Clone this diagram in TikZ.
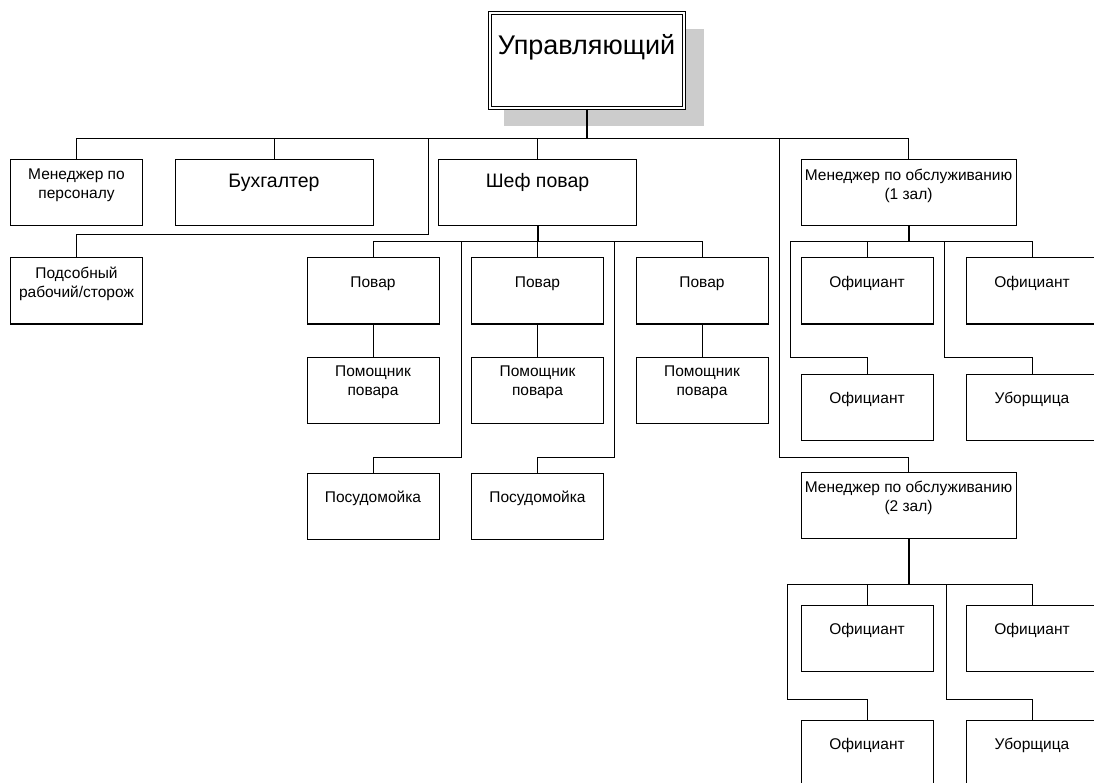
\documentclass[tikz,border=0pt]{standalone}
\usepackage{fontspec}
\setmainfont{Liberation Sans}
\usetikzlibrary{shadows}

\tikzset{
  box/.style={draw, line width=1pt, fill=white, minimum width=132pt, minimum height=66pt,
    inner sep=0pt, align=center, font=\fontsize{15.5pt}{19pt}\selectfont, text depth=18pt},
  bigtext/.style={font=\fontsize{19.5pt}{23pt}\selectfont, text height=14pt, text depth=24pt},
  trunk/.style={line width=2pt},
}

\begin{document}
\begin{tikzpicture}[x=1pt,y=-1pt,line width=1pt]
  \useasboundingbox (0,0) rectangle (1094,783);

  % top of the chart
  \node[box, double, double distance=2pt, minimum width=194pt, minimum height=95pt,
        font=\fontsize{27pt}{32pt}\selectfont, text height=19.3pt, text depth=32pt,
        drop shadow={shadow xshift=17pt, shadow yshift=-16pt, shadow scale=1.03, opacity=1, fill=black!20}]
    (head) at (586.5,61) {Управляющий};

  % first level
  \node[box] (hr) at (76.5,193) {Менеджер по\\персоналу};
  \node[box, minimum width=198pt, bigtext] (acc) at (274,193) {Бухгалтер};
  \node[box] (helper) at (76.5,291) {Подсобный\\рабочий/сторож};
  \node[box, minimum width=198pt, bigtext] (chef) at (537.5,193) {Шеф повар};
  \node[box, minimum width=215pt] (m1) at (908.5,193) {Менеджер по обслуживанию\\(1 зал)};
  \node[box, minimum width=215pt] (m2) at (908.5,505.5) {Менеджер по обслуживанию\\(2 зал)};

  % kitchen
  \node[box] (cook1) at (373,291) {Повар};
  \node[box] (cook2) at (537.5,291) {Повар};
  \node[box] (cook3) at (702,291) {Повар};
  \node[box] (asst1) at (373,390) {Помощник\\повара};
  \node[box] (asst2) at (537.5,390) {Помощник\\повара};
  \node[box] (asst3) at (702,390) {Помощник\\повара};
  \node[box] (dish1) at (373,506) {Посудомойка};
  \node[box] (dish2) at (537.5,506) {Посудомойка};

  % hall 1
  \node[box] (w1a) at (867,291) {Официант};
  \node[box] (w1b) at (1032,291) {Официант};
  \node[box] (w1c) at (867,407) {Официант};
  \node[box] (cl1) at (1032,407) {Уборщица};

  % hall 2
  \node[box] (w2a) at (867,638) {Официант};
  \node[box] (w2b) at (1032,638) {Официант};
  \node[box] (w2c) at (867,753) {Официант};
  \node[box] (cl2) at (1032,753) {Уборщица};

  \coordinate (b0) at (0,139);
  \coordinate (b1) at (0,242);
  \coordinate (b2) at (0,584);

  \draw[trunk] (head.south) -- (head.south |- b0);
  \draw (hr.north) |- (m1.north |- b0) -- (m1.north);
  \draw (acc.north) -- (acc.north |- b0);
  \draw (chef.north) -- (chef.north |- b0);
  \coordinate (j1) at (428,235);
  \draw (j1 |- b0) -- (j1) -| (helper.north);
  \coordinate (j2) at (779,457);
  \draw (j2 |- b0) -- (j2) -| (m2.north);

  \draw[trunk] (chef.south) -- (chef.south |- b1);
  \draw (cook1.north) |- (cook3.north |- b1) -- (cook3.north);
  \draw (cook2.north) -- (cook2.north |- b1);
  \draw (cook1.south) -- (asst1.north);
  \draw (cook2.south) -- (asst2.north);
  \draw (cook3.south) -- (asst3.north);
  \coordinate (j3) at (461,457);
  \draw (j3 |- b1) -- (j3) -| (dish1.north);
  \coordinate (j4) at (614,457);
  \draw (j4 |- b1) -- (j4) -| (dish2.north);

  \draw[trunk] (m1.south) -- (m1.south |- b1);
  \coordinate (j5) at (790,357);
  \draw (j5) |- (w1b.north |- b1) -- (w1b.north);
  \draw (j5) -| (w1c.north);
  \draw (w1a.north) -- (w1a.north |- b1);
  \coordinate (j6) at (944,357);
  \draw (j6 |- b1) -- (j6) -| (cl1.north);

  \draw[trunk] (m2.south) -- (m2.south |- b2);
  \coordinate (j7) at (787,699);
  \draw (j7) |- (w2b.north |- b2) -- (w2b.north);
  \draw (j7) -| (w2c.north);
  \draw (w2a.north) -- (w2a.north |- b2);
  \coordinate (j8) at (946,699);
  \draw (j8 |- b2) -- (j8) -| (cl2.north);
\end{tikzpicture}
\end{document}
